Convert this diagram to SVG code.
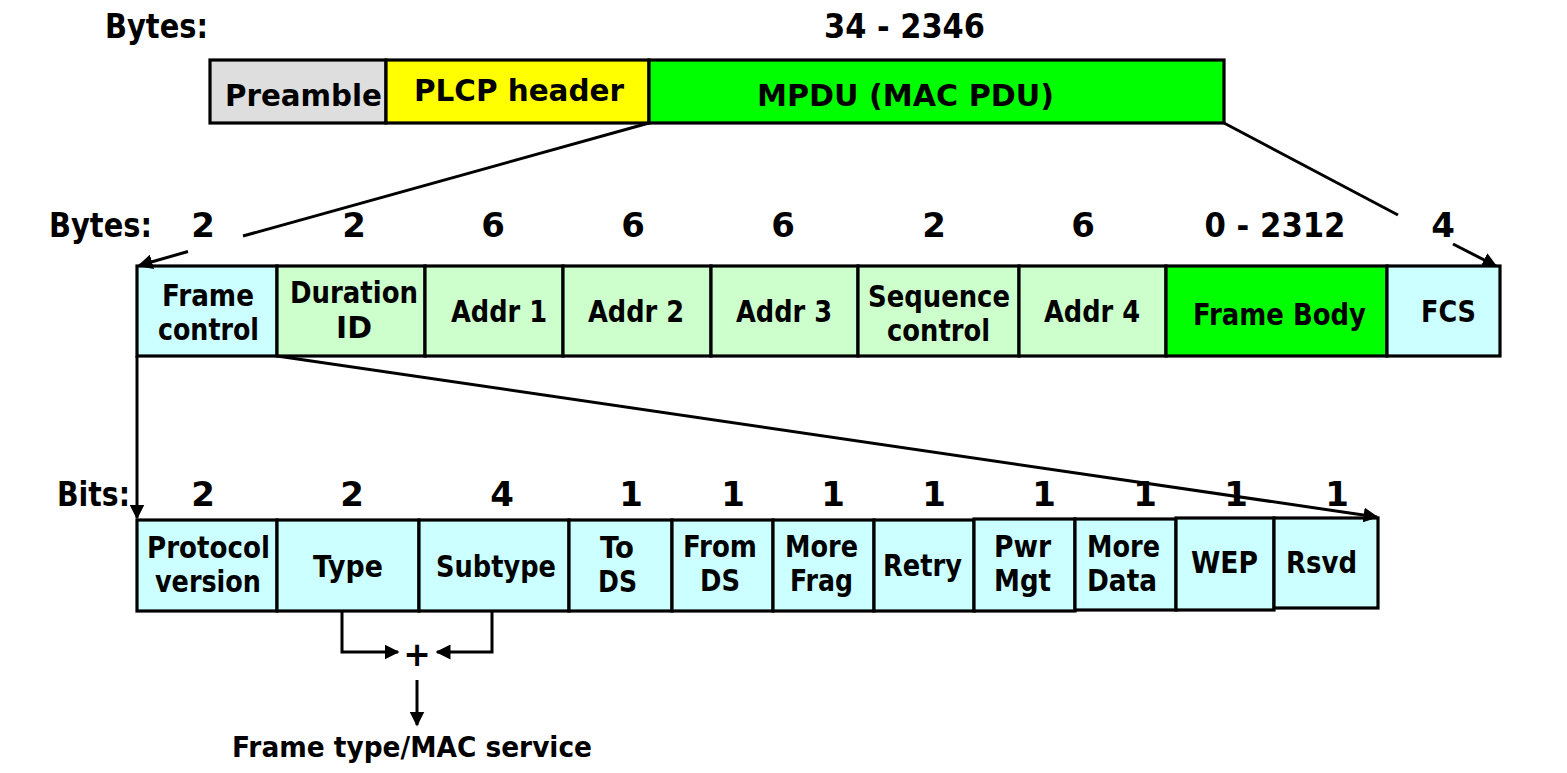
<svg xmlns="http://www.w3.org/2000/svg" width="1567" height="773" viewBox="0 0 1567 773">
<style>
text{font-family:"DejaVu Sans","Liberation Sans",sans-serif;font-weight:bold;fill:#000}
.l{font-size:31px;text-anchor:middle}
.n{font-size:34px;text-anchor:middle}
.h{font-size:33px}
.box{stroke:#000;stroke-width:3.2}
.gray{fill:#dedede}.yel{fill:#ffff00}.grn{fill:#00ff00}.lg{fill:#ccffcc}.cy{fill:#ccffff}
.c{stroke:#000;stroke-width:3;fill:none}
</style>
<defs>
<marker id="ah" viewBox="0 0 10 10" refX="9" refY="5" markerWidth="5" markerHeight="5" orient="auto" markerUnits="strokeWidth">
<path d="M0,0 L10,5 L0,10 z" fill="#000"/>
</marker>
</defs>

<text class="h" x="105" y="38" textLength="103" lengthAdjust="spacingAndGlyphs">Bytes:</text>
<text class="n" x="904.5" y="38" textLength="161" lengthAdjust="spacingAndGlyphs">34 - 2346</text>

<g id="preamble"><rect class="box gray" x="210" y="60" width="176" height="63"/><text class="l" x="303.5" y="106" textLength="157" lengthAdjust="spacingAndGlyphs">Preamble</text></g>
<g id="plcp"><rect class="box yel" x="386" y="60" width="263" height="63"/><text class="l" x="519" y="101" textLength="210" lengthAdjust="spacingAndGlyphs">PLCP header</text></g>
<g id="mpdu"><rect class="box grn" x="649" y="60" width="575" height="63"/><text class="l" x="905.5" y="106" textLength="297" lengthAdjust="spacingAndGlyphs">MPDU (MAC PDU)</text></g>

<text class="h" x="49" y="237" textLength="103" lengthAdjust="spacingAndGlyphs">Bytes:</text>
<g id="bytes-labels">
<text class="n" x="203" y="237">2</text>
<text class="n" x="354" y="237">2</text>
<text class="n" x="493" y="237">6</text>
<text class="n" x="633" y="237">6</text>
<text class="n" x="783" y="237">6</text>
<text class="n" x="934" y="237">2</text>
<text class="n" x="1083" y="237">6</text>
<text class="n" x="1275" y="237" textLength="141" lengthAdjust="spacingAndGlyphs">0 - 2312</text>
<text class="n" x="1443" y="237">4</text>
</g>

<g id="frame-control"><rect class="box cy" x="137" y="266" width="140" height="90"/><text class="l" x="208" y="306" textLength="92" lengthAdjust="spacingAndGlyphs">Frame</text><text class="l" x="208.5" y="340" textLength="101" lengthAdjust="spacingAndGlyphs">control</text></g>
<g id="duration"><rect class="box lg" x="277" y="266" width="148" height="90"/><text class="l" x="354" y="303" textLength="128" lengthAdjust="spacingAndGlyphs">Duration</text><text class="l" x="354" y="338" textLength="36" lengthAdjust="spacingAndGlyphs">ID</text></g>
<g id="addr1"><rect class="box lg" x="425" y="266" width="138" height="90"/><text class="l" x="499" y="322" textLength="96" lengthAdjust="spacingAndGlyphs">Addr 1</text></g>
<g id="addr2"><rect class="box lg" x="563" y="266" width="148" height="90"/><text class="l" x="636" y="322" textLength="96" lengthAdjust="spacingAndGlyphs">Addr 2</text></g>
<g id="addr3"><rect class="box lg" x="711" y="266" width="147" height="90"/><text class="l" x="784" y="322" textLength="96" lengthAdjust="spacingAndGlyphs">Addr 3</text></g>
<g id="seq"><rect class="box lg" x="858" y="266" width="161" height="90"/><text class="l" x="939" y="307" textLength="142" lengthAdjust="spacingAndGlyphs">Sequence</text><text class="l" x="938.5" y="341" textLength="103" lengthAdjust="spacingAndGlyphs">control</text></g>
<g id="addr4"><rect class="box lg" x="1019" y="266" width="147" height="90"/><text class="l" x="1092" y="322" textLength="96" lengthAdjust="spacingAndGlyphs">Addr 4</text></g>
<g id="body"><rect class="box grn" x="1166" y="266" width="221" height="90"/><text class="l" x="1279.5" y="325" textLength="173" lengthAdjust="spacingAndGlyphs">Frame Body</text></g>
<g id="fcs"><rect class="box cy" x="1387" y="266" width="113" height="90"/><text class="l" x="1448.5" y="322" textLength="55" lengthAdjust="spacingAndGlyphs">FCS</text></g>

<text class="h" x="57" y="506" textLength="73" lengthAdjust="spacingAndGlyphs">Bits:</text>
<g id="bits-labels">
<text class="n" x="203" y="506">2</text>
<text class="n" x="352" y="506">2</text>
<text class="n" x="502" y="506">4</text>
<text class="n" x="631" y="506">1</text>
<text class="n" x="733" y="506">1</text>
<text class="n" x="833" y="506">1</text>
<text class="n" x="934" y="506">1</text>
<text class="n" x="1044" y="506">1</text>
<text class="n" x="1145" y="506">1</text>
<text class="n" x="1236" y="506">1</text>
<text class="n" x="1337" y="506">1</text>
</g>

<g id="protocol"><rect class="box cy" x="137" y="520" width="140" height="91"/><text class="l" x="208.5" y="558" textLength="123" lengthAdjust="spacingAndGlyphs">Protocol</text><text class="l" x="208" y="592" textLength="106" lengthAdjust="spacingAndGlyphs">version</text></g>
<g id="type"><rect class="box cy" x="277" y="520" width="142" height="91"/><text class="l" x="348" y="577" textLength="70" lengthAdjust="spacingAndGlyphs">Type</text></g>
<g id="subtype"><rect class="box cy" x="419" y="520" width="150" height="91"/><text class="l" x="496" y="577" textLength="120" lengthAdjust="spacingAndGlyphs">Subtype</text></g>
<g id="tods"><rect class="box cy" x="569" y="520" width="103" height="91"/><text class="l" x="617" y="558" textLength="34" lengthAdjust="spacingAndGlyphs">To</text><text class="l" x="617.5" y="592" textLength="39" lengthAdjust="spacingAndGlyphs">DS</text></g>
<g id="fromds"><rect class="box cy" x="672" y="520" width="101" height="91"/><text class="l" x="720" y="557" textLength="74" lengthAdjust="spacingAndGlyphs">From</text><text class="l" x="720" y="591" textLength="40" lengthAdjust="spacingAndGlyphs">DS</text></g>
<g id="morefrag"><rect class="box cy" x="773" y="520" width="101" height="91"/><text class="l" x="821.5" y="557" textLength="73" lengthAdjust="spacingAndGlyphs">More</text><text class="l" x="821.5" y="591" textLength="63" lengthAdjust="spacingAndGlyphs">Frag</text></g>
<g id="retry"><rect class="box cy" x="874" y="520" width="100" height="91"/><text class="l" x="922.5" y="576" textLength="79" lengthAdjust="spacingAndGlyphs">Retry</text></g>
<g id="pwrmgt"><rect class="box cy" x="974" y="519" width="101" height="92"/><text class="l" x="1022.5" y="557" textLength="57" lengthAdjust="spacingAndGlyphs">Pwr</text><text class="l" x="1022.5" y="591" textLength="57" lengthAdjust="spacingAndGlyphs">Mgt</text></g>
<g id="moredata"><rect class="box cy" x="1075" y="519" width="101" height="91"/><text class="l" x="1123.5" y="557" textLength="73" lengthAdjust="spacingAndGlyphs">More</text><text class="l" x="1122" y="591" textLength="70" lengthAdjust="spacingAndGlyphs">Data</text></g>
<g id="wep"><rect class="box cy" x="1176" y="518" width="98" height="92"/><text class="l" x="1224.5" y="573" textLength="67" lengthAdjust="spacingAndGlyphs">WEP</text></g>
<g id="rsvd"><rect class="box cy" x="1274" y="518" width="104" height="90"/><text class="l" x="1321.5" y="573" textLength="71" lengthAdjust="spacingAndGlyphs">Rsvd</text></g>

<g id="connectors">
<line class="c" x1="649" y1="123" x2="243" y2="236"/>
<line class="c" x1="188" y1="251.5" x2="139" y2="265.5" marker-end="url(#ah)"/>
<line class="c" x1="1224" y1="123" x2="1398" y2="215"/>
<line class="c" x1="1453" y1="244" x2="1496" y2="266" marker-end="url(#ah)"/>
<line class="c" x1="137" y1="356" x2="137" y2="518" marker-end="url(#ah)"/>
<line class="c" x1="277" y1="356" x2="1377" y2="517" marker-end="url(#ah)"/>
<polyline class="c" points="342,611 342,652 398,652" marker-end="url(#ah)"/>
<polyline class="c" points="492,611 492,652 437,652" marker-end="url(#ah)"/>
<line class="c" x1="417" y1="680" x2="417" y2="725" marker-end="url(#ah)"/>
</g>
<text class="l" x="417" y="666" style="font-size:33px">+</text>
<text class="h" x="232" y="757" textLength="360" lengthAdjust="spacingAndGlyphs" style="font-size:29px">Frame type/MAC service</text>
</svg>
